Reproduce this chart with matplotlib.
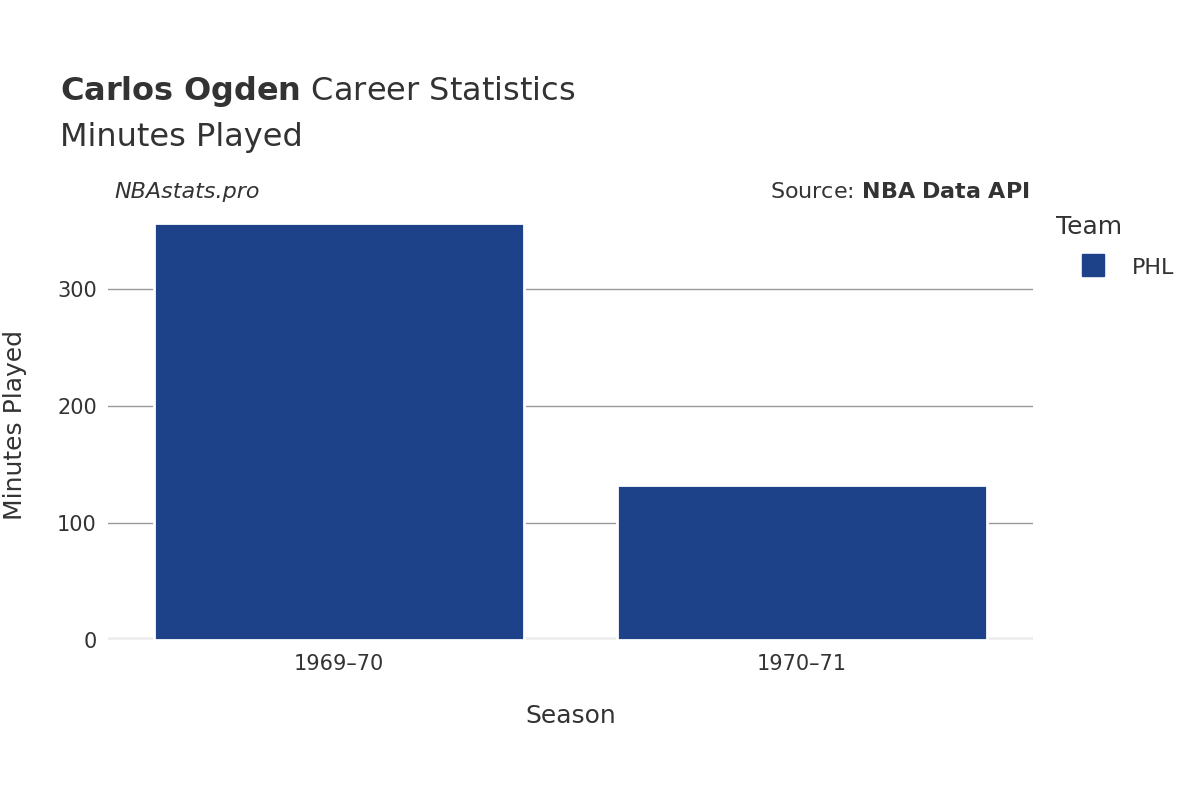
import matplotlib.pyplot as plt

seasons = ["1969\u201370", "1970\u201371"]
minutes = [356, 132]
team = "PHL"
color = "#1d428a"

fig = plt.figure(figsize=(12, 8), dpi=100)
ax = fig.add_axes([0.09, 0.2, 0.771, 0.5375])

x = range(len(seasons))
ax.bar(x, minutes, width=0.8, color=color, edgecolor="white", linewidth=2, zorder=3)
ax.set_xlim(-0.5, 1.5)
ax.set_ylim(0, 367)
ax.set_yticks([0, 100, 200, 300])
ax.set_xticks(list(x))
ax.set_xticklabels(seasons)
ax.grid(axis="y", color="#999999", linewidth=1, zorder=0)
ax.axhline(0, color="#eeeeee", linewidth=4, zorder=2)
for s in ax.spines.values():
    s.set_visible(False)
ax.tick_params(axis="both", length=0, labelsize=15, colors="#333333", pad=8)
ax.tick_params(axis="x", pad=10)
ax.set_xlabel("Season", fontsize=18, color="#333333", labelpad=22)
ax.set_ylabel("Minutes Played", fontsize=18, color="#333333", labelpad=22)

fig.text(0.05, 0.875, "$\\bf{Carlos\\ Ogden}$ Career Statistics", fontsize=23, color="#333333")
fig.text(0.05, 0.818, "Minutes Played", fontsize=23, color="#333333")
fig.text(0.095, 0.752, "NBAstats.pro", fontsize=16, style="italic", color="#333333")
fig.text(0.858, 0.752, "Source: $\\bf{NBA\\ Data\\ API}$", fontsize=16, color="#333333", ha="right")

fig.text(0.88, 0.708, "Team", fontsize=18, color="#333333")
fig.patches.append(plt.Rectangle((0.902, 0.655), 0.018, 0.027, transform=fig.transFigure,
                                 color=color, figure=fig))
fig.text(0.943, 0.657, team, fontsize=16, color="#333333")

fig.savefig("out.png")
